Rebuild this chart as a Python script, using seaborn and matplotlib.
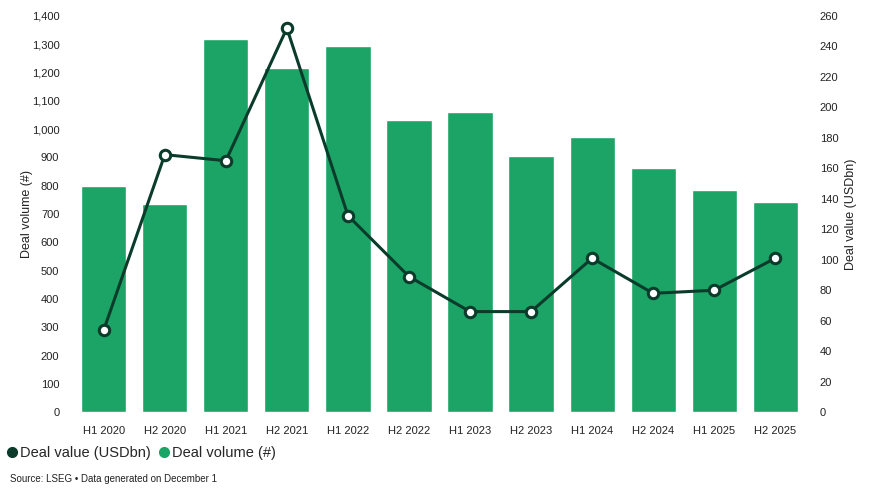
import pandas as pd
import numpy as np
import seaborn as sns
import matplotlib.pyplot as plt
from matplotlib.lines import Line2D
from matplotlib.ticker import FuncFormatter, MultipleLocator

periods = ["H1 2020", "H2 2020", "H1 2021", "H2 2021", "H1 2022", "H2 2022",
           "H1 2023", "H2 2023", "H1 2024", "H2 2024", "H1 2025", "H2 2025"]
deal_volume = [800, 735, 1320, 1215, 1295, 1032, 1060, 905, 972, 862, 785, 742]
deal_value = [54, 169, 165, 252, 129, 89, 66, 66, 101, 78, 80, 101]

green = "#1ca466"
dark = "#0a3b2b"

df = pd.DataFrame({"period": periods, "volume": deal_volume, "value": deal_value})

sns.set_style("white")
plt.rcParams["font.family"] = ["Liberation Sans", "DejaVu Sans"]

fig = plt.figure(figsize=(8.72, 4.99), dpi=100)
ax = fig.add_axes([0.084, 0.174, 0.840, 0.794])

sns.barplot(data=df, x="period", y="volume", color=green, saturation=1,
            width=0.74, ax=ax)
ax.set_ylim(0, 1400)
ax.yaxis.set_major_locator(MultipleLocator(100))
ax.yaxis.set_major_formatter(FuncFormatter(lambda v, p: f"{int(v):,}"))
ax.set_xlabel("")
ax.set_ylabel("Deal volume (#)", fontsize=9, color="#222222", labelpad=-1)
ax.tick_params(axis="both", labelsize=8, colors="#222222", length=0)
ax.tick_params(axis="y", pad=10)
ax.tick_params(axis="x", pad=10)

ax2 = ax.twinx()
sns.lineplot(x=df.index, y=df["value"], ax=ax2, color=dark, lw=2.2,
             marker="o", markersize=7.5, markerfacecolor="white",
             markeredgecolor=dark, markeredgewidth=2.2, zorder=5)
ax2.set_ylim(0, 260)
ax2.yaxis.set_major_locator(MultipleLocator(20))
ax2.set_ylabel("Deal value (USDbn)", fontsize=9, color="#222222", labelpad=5)
ax2.tick_params(axis="y", labelsize=8, colors="#222222", length=0, pad=10)
ax.set_xlim(-0.5, len(periods) - 0.5)

for a in (ax, ax2):
    for s in a.spines.values():
        s.set_visible(False)
    a.grid(False)

handles = [
    Line2D([], [], marker="o", ls="", color=dark, markersize=7),
    Line2D([], [], marker="o", ls="", color=green, markersize=7),
]
fig.legend(handles, ["Deal value (USDbn)", "Deal volume (#)"], loc="lower left",
           bbox_to_anchor=(-0.008, 0.052), ncol=2, frameon=False, fontsize=10.5,
           handletextpad=0.15, columnspacing=0.5, handlelength=0.8)
fig.text(0.012, 0.035, "Source: LSEG \u2022 Data generated on December 1",
         fontsize=7, color="#222222")

fig.savefig("out.png", dpi=100)
